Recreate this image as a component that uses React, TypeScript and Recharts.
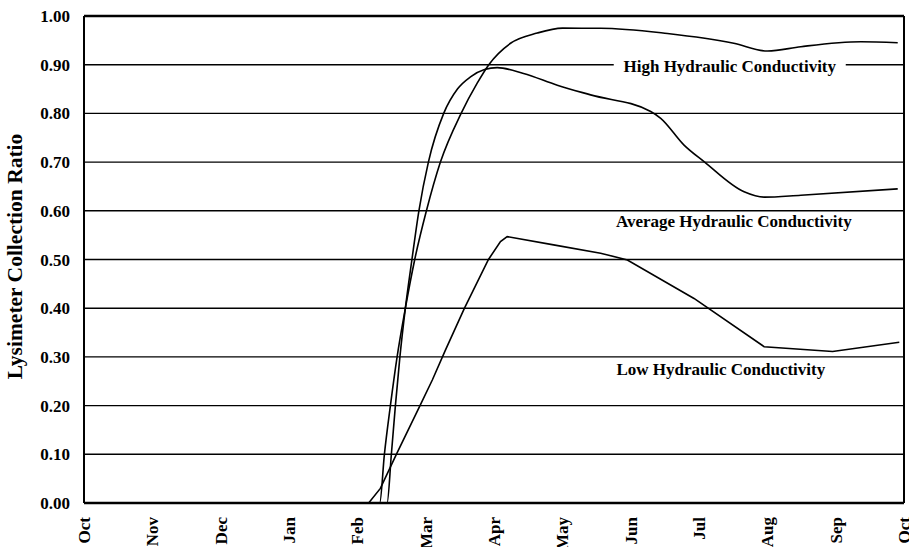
import React from "react";
import { CartesianGrid, Line, LineChart, ReferenceDot, ReferenceLine, XAxis, YAxis } from "recharts";

// x = months since Oct 1, y = collection ratio
const monthLabels = ["Oct", "Nov", "Dec", "Jan", "Feb", "Mar", "Apr", "May", "Jun", "Jul", "Aug", "Sep", "Oct"];
const monthTicks = [0, 1, 2, 3, 4, 5, 6, 7, 8, 9, 10, 11, 12];
const ratioTicks = [0, 0.1, 0.2, 0.3, 0.4, 0.5, 0.6, 0.7, 0.8, 0.9, 1.0];
const minorRatioTicks = [
  0.02, 0.04, 0.06, 0.08, 0.12, 0.14, 0.16, 0.18, 0.22, 0.24, 0.26, 0.28, 0.32, 0.34, 0.36, 0.38,
  0.42, 0.44, 0.46, 0.48, 0.52, 0.54, 0.56, 0.58, 0.62, 0.64, 0.66, 0.68, 0.72, 0.74, 0.76, 0.78,
  0.82, 0.84, 0.86, 0.88, 0.92, 0.94, 0.96, 0.98,
];

const highConductivity = [
  { m: 0, v: 0 },
  { m: 4.327, v: 0 },
  { m: 4.396, v: 0.1 },
  { m: 4.484, v: 0.2 },
  { m: 4.582, v: 0.3 },
  { m: 4.703, v: 0.4 },
  { m: 4.84, v: 0.5 },
  { m: 5.011, v: 0.6 },
  { m: 5.216, v: 0.7 },
  { m: 5.519, v: 0.8 },
  { m: 5.754, v: 0.862 },
  { m: 5.924, v: 0.9 },
  { m: 6.242, v: 0.944 },
  { m: 6.633, v: 0.965 },
  { m: 7.004, v: 0.975 },
  { m: 7.56, v: 0.975 },
  { m: 8.538, v: 0.964 },
  { m: 9.509, v: 0.944 },
  { m: 10.003, v: 0.928 },
  { m: 10.491, v: 0.937 },
  { m: 11.37, v: 0.947 },
  { m: 11.908, v: 0.945 },
];

const averageConductivity = [
  { m: 0, v: 0 },
  { m: 4.435, v: 0 },
  { m: 4.498, v: 0.1 },
  { m: 4.557, v: 0.2 },
  { m: 4.623, v: 0.3 },
  { m: 4.703, v: 0.4 },
  { m: 4.799, v: 0.5 },
  { m: 4.901, v: 0.6 },
  { m: 5.04, v: 0.7 },
  { m: 5.264, v: 0.8 },
  { m: 5.465, v: 0.85 },
  { m: 5.656, v: 0.875 },
  { m: 5.861, v: 0.89 },
  { m: 6.047, v: 0.894 },
  { m: 6.432, v: 0.882 },
  { m: 6.926, v: 0.858 },
  { m: 7.414, v: 0.838 },
  { m: 8.293, v: 0.804 },
  { m: 8.44, v: 0.79 },
  { m: 8.781, v: 0.735 },
  { m: 9.074, v: 0.701 },
  { m: 9.66, v: 0.639 },
  { m: 9.953, v: 0.628 },
  { m: 10.491, v: 0.632 },
  { m: 11.908, v: 0.645 },
];

const lowConductivity = [
  { m: 0, v: 0 },
  { m: 4.166, v: 0 },
  { m: 4.337, v: 0.03 },
  { m: 4.571, v: 0.1 },
  { m: 4.917, v: 0.2 },
  { m: 5.099, v: 0.253 },
  { m: 5.289, v: 0.314 },
  { m: 5.568, v: 0.4 },
  { m: 5.919, v: 0.5 },
  { m: 6.095, v: 0.537 },
  { m: 6.193, v: 0.547 },
  { m: 6.872, v: 0.53 },
  { m: 7.56, v: 0.513 },
  { m: 7.952, v: 0.499 },
  { m: 8.927, v: 0.42 },
  { m: 9.953, v: 0.321 },
  { m: 10.955, v: 0.311 },
  { m: 11.931, v: 0.33 },
];

const curveLabels = [
  { text: "High Hydraulic Conductivity", m: 9.45, v: 0.884, boxed: true },
  { text: "Average Hydraulic Conductivity", m: 9.51, v: 0.567, boxed: false },
  { text: "Low Hydraulic Conductivity", m: 9.32, v: 0.263, boxed: false },
];

const FONT = "'Times New Roman', 'Liberation Serif', serif";

function MonthTick({ x, y, payload }: any) {
  return (
    <text
      transform={`translate(${x + 6}, ${y + 14}) rotate(-90)`}
      textAnchor="end"
      fontFamily={FONT}
      fontWeight="bold"
      fontSize={17}
      fill="#000"
    >
      {monthLabels[payload.value]}
    </text>
  );
}

function AxisTitle({ viewBox }: any) {
  const cy = viewBox.y + viewBox.height / 2 - 3;
  return (
    <text
      transform={`translate(${viewBox.x + 14}, ${cy}) rotate(-90)`}
      textAnchor="middle"
      fontFamily={FONT}
      fontWeight="bold"
      fontSize={21.5}
      fill="#000"
    >
      Lysimeter Collection Ratio
    </text>
  );
}

export default function App() {
  return (
    <div style={{ position: "absolute", left: 0, top: 0, width: 909, height: 547 }}>
      <LineChart width={909} height={547} margin={{ top: 16, right: 5, left: 8, bottom: 0 }}>
        <CartesianGrid horizontal vertical={false} stroke="#000" strokeWidth={1.4} />
        <XAxis
          dataKey="m"
          type="number"
          domain={[0, 12]}
          ticks={monthTicks}
          interval={0}
          height={44}
          tickLine={false}
          tickSize={0}
          tickMargin={0}
          axisLine={{ stroke: "#000", strokeWidth: 2.5 }}
          tick={<MonthTick />}
        />
        <XAxis
          xAxisId="minor"
          dataKey="m"
          type="number"
          domain={[0, 12]}
          ticks={monthTicks.slice(1, 12)}
          mirror
          tick={false}
          axisLine={false}
          tickSize={6}
          tickLine={{ stroke: "#000", strokeWidth: 1.4 }}
        />
        <YAxis
          type="number"
          domain={[0, 1]}
          ticks={ratioTicks}
          interval={0}
          width={76}
          tickLine={false}
          tickSize={0}
          tickMargin={14}
          tickFormatter={(v: number) => v.toFixed(2)}
          tick={{ fontFamily: FONT, fontWeight: "bold", fontSize: 17, fill: "#000" }}
          axisLine={{ stroke: "#000", strokeWidth: 2 }}
          label={{ content: (p: any) => <AxisTitle viewBox={p.viewBox} /> }}
        />
        <YAxis
          yAxisId="minor"
          type="number"
          domain={[0, 1]}
          ticks={minorRatioTicks}
          interval={0}
          mirror
          tick={false}
          axisLine={false}
          tickSize={5}
          tickLine={{ stroke: "#000", strokeWidth: 1.2 }}
        />
        <ReferenceLine y={1} stroke="#000" strokeWidth={2.5} />
        <ReferenceLine x={12} stroke="#000" strokeWidth={2} />
        {curveLabels.map((c) => (
          <ReferenceDot
            key={c.text}
            x={c.m}
            y={c.v}
            r={0}
            shape={(p: any) => (
              <g>
                {c.boxed && <rect x={p.cx - 116} y={p.cy - 15} width={232} height={17} fill="#fff" />}
                <text x={p.cx} y={p.cy} textAnchor="middle" fontFamily={FONT} fontWeight="bold" fontSize={17} fill="#000">
                  {c.text}
                </text>
              </g>
            )}
          />
        ))}
        <Line data={highConductivity} dataKey="v" type="monotone" stroke="#000" strokeWidth={1.6} dot={false} isAnimationActive={false} />
        <Line data={averageConductivity} dataKey="v" type="monotone" stroke="#000" strokeWidth={1.6} dot={false} isAnimationActive={false} />
        <Line data={lowConductivity} dataKey="v" type="linear" stroke="#000" strokeWidth={1.6} dot={false} isAnimationActive={false} />
      </LineChart>
    </div>
  );
}
